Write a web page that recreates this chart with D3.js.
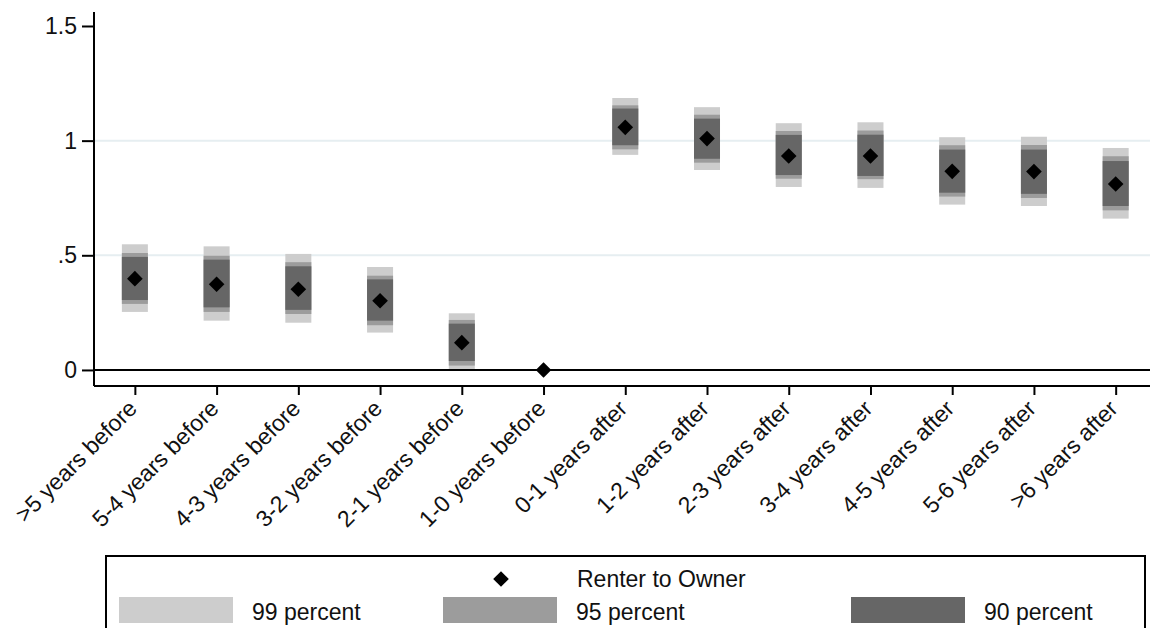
<!DOCTYPE html>
<html>
<head>
<meta charset="utf-8">
<script src="https://cdn.jsdelivr.net/npm/d3@7"></script>
<style>
  body { margin: 0; background: #ffffff; }
  svg { display: block; font-family: Arial, "Liberation Sans", sans-serif; }
</style>
</head>
<body>
<div id="chart"></div>
<script>

// categories on the x axis
var categories = [">5 years before", "5-4 years before", "4-3 years before", "3-2 years before",
    "2-1 years before", "1-0 years before", "0-1 years after", "1-2 years after",
    "2-3 years after", "3-4 years after", "4-5 years after", "5-6 years after", ">6 years after"];

// point estimates (Renter to Owner)
var estimates = [0.398, 0.374, 0.352, 0.302, 0.119, 0, 1.058, 1.009, 0.933, 0.933, 0.866, 0.865, 0.811];

// confidence bands, null where there is none
var ci99Low  = [0.253, 0.215, 0.206, 0.163, -0.004, null, 0.938, 0.872, 0.798, 0.794, 0.721, 0.715, 0.660];
var ci99High = [0.548, 0.539, 0.506, 0.449, 0.247, null, 1.186, 1.146, 1.076, 1.080, 1.015, 1.017, 0.968];
var ci95Low  = [0.288, 0.253, 0.244, 0.195, 0.019, null, 0.962, 0.904, 0.834, 0.832, 0.756, 0.750, 0.696];
var ci95High = [0.510, 0.498, 0.470, 0.411, 0.218, null, 1.154, 1.113, 1.042, 1.044, 0.980, 0.981, 0.932];
var ci90Low  = [0.305, 0.273, 0.262, 0.215, 0.039, null, 0.980, 0.921, 0.850, 0.846, 0.773, 0.768, 0.715];
var ci90High = [0.493, 0.481, 0.452, 0.395, 0.202, null, 1.140, 1.096, 1.025, 1.026, 0.961, 0.961, 0.911];

var yTicks = [0, 0.5, 1, 1.5];
var yTickLabels = ["0", ".5", "1", "1.5"];
var gridValues = [0.5, 1];

var width = 1152, height = 628;
var fontSize = "23px";

var svg = d3.select("#chart")
    .append("svg")
        .attr("width", width)
        .attr("height", height);

// Set the ranges
var x = d3.scaleLinear().domain([-0.5, 12.42]).range([94, 1150]);
var y = d3.scaleLinear().domain([-0.07, 1.561]).range([386, 12]);

// light gridlines
svg.selectAll(".grid")
    .data(gridValues)
    .enter()
    .append("line")
    .attr("x1", x(-0.5))
    .attr("x2", x(12.42))
    .attr("y1", function(d) { return y(d); })
    .attr("y2", function(d) { return y(d); })
    .style("stroke", "#e6eef1")
    .style("stroke-width", 2);

// the bands, widest first so the narrow ones sit on top
var bands = [
    {lo: ci99Low, hi: ci99High, color: "#cdcdcd", label: "99 percent"},
    {lo: ci95Low, hi: ci95High, color: "#9c9c9c", label: "95 percent"},
    {lo: ci90Low, hi: ci90High, color: "#666666", label: "90 percent"}
];
var barW = 26;

bands.forEach(function(b) {
    svg.append("g")
        .selectAll("rect")
        .data(d3.range(categories.length).filter(function(i) { return b.lo[i] !== null; }))
        .enter()
        .append("rect")
        .attr("x", function(i) { return x(i) - barW / 2; })
        .attr("width", barW)
        .attr("y", function(i) { return y(b.hi[i]); })
        .attr("height", function(i) { return y(b.lo[i]) - y(b.hi[i]); })
        .style("fill", b.color);
});

// zero line
svg.append("line")
    .attr("x1", x(-0.5))
    .attr("x2", x(12.42))
    .attr("y1", y(0))
    .attr("y2", y(0))
    .style("stroke", "#000")
    .style("stroke-width", 2);

// diamond markers
var diamond = d3.symbol().type(d3.symbolSquare).size(122);
svg.selectAll(".pt")
    .data(estimates)
    .enter()
    .append("path")
    .attr("d", diamond)
    .attr("transform", function(d, i) { return "translate(" + x(i) + "," + y(d) + ") rotate(45)"; })
    .style("fill", "#000");

// Add Y axis
var yAxis = d3.axisLeft(y)
    .tickValues(yTicks)
    .tickFormat(function(d, i) { return yTickLabels[i]; })
    .tickSize(12)
    .tickPadding(5);

var gy = svg.append("g")
    .attr("transform", "translate(" + x(-0.5) + ",0)")
    .call(yAxis);
gy.select(".domain").attr("d", "M0," + y(1.561) + "V" + y(-0.07));
gy.selectAll("path, line").style("stroke", "#000").style("stroke-width", 2);
gy.selectAll("text")
    .style("font-size", fontSize)
    .style("fill", "#111");

// Add X axis
var xAxis = d3.axisBottom(x)
    .tickValues(d3.range(categories.length))
    .tickFormat(function(d) { return categories[d]; })
    .tickSize(9);

var gx = svg.append("g")
    .attr("transform", "translate(0," + y(-0.07) + ")")
    .call(xAxis);
gx.select(".domain").attr("d", "M" + x(-0.5) + ",0H" + x(12.42));
gx.selectAll("path, line").style("stroke", "#000").style("stroke-width", 2);
gx.selectAll("text")
    .attr("x", 0)
    .attr("y", 0)
    .attr("dy", 0)
    .attr("transform", "translate(3,24) rotate(-45)")
    .style("text-anchor", "end")
    .style("font-size", fontSize)
    .style("fill", "#111");

// legend box
svg.append("rect")
    .attr("x", 106)
    .attr("y", 556)
    .attr("width", 1039)
    .attr("height", 90)
    .style("fill", "#fff")
    .style("stroke", "#000")
    .style("stroke-width", 2);

svg.append("path")
    .attr("d", diamond)
    .attr("transform", "translate(501,579) rotate(45)")
    .style("fill", "#000");
svg.append("text")
    .attr("x", 577)
    .attr("y", 587)
    .style("font-size", fontSize)
    .style("fill", "#111")
    .text("Renter to Owner");

var legendX = [119, 443, 851];
bands.forEach(function(b, i) {
    svg.append("rect")
        .attr("x", legendX[i])
        .attr("y", 597)
        .attr("width", 114)
        .attr("height", 26)
        .style("fill", b.color);
    svg.append("text")
        .attr("x", legendX[i] + 133)
        .attr("y", 620)
        .style("font-size", fontSize)
        .style("fill", "#111")
        .text(b.label);
});

</script>
</body>
</html>
